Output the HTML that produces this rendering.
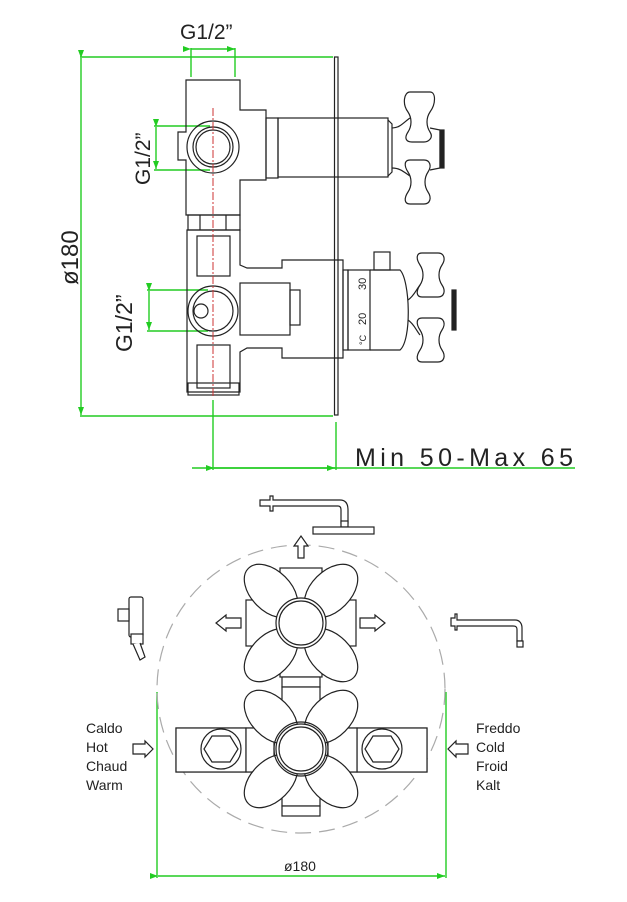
<!DOCTYPE html>
<html><head><meta charset="utf-8"><style>
html,body{margin:0;padding:0;background:#fff;}
svg{display:block;}
text{font-family:"Liberation Sans","DejaVu Sans",sans-serif;fill:#222;}
</style></head><body>
<svg width="627" height="902" viewBox="0 0 627 902" xmlns="http://www.w3.org/2000/svg">
<defs>
<marker id="ah" markerWidth="8" markerHeight="6" refX="8" refY="3" orient="auto" markerUnits="userSpaceOnUse"><path d="M0,0 L8,3 L0,6 Z" fill="#2c2"/></marker>
</defs>
<g fill="none" stroke="#22cc22" stroke-width="1.4">
<line x1="80" y1="57" x2="333" y2="57"/>
<line x1="80" y1="416" x2="333" y2="416"/>
<line x1="81" y1="58" x2="81" y2="415" marker-start="url(#ah)" marker-end="url(#ah)"/>
<line x1="191" y1="48" x2="191" y2="77"/><line x1="235" y1="48" x2="235" y2="77"/>
<line x1="191" y1="49" x2="235" y2="49" marker-start="url(#ah)" marker-end="url(#ah)"/>
<line x1="154" y1="126" x2="210" y2="126"/><line x1="154" y1="170" x2="210" y2="170"/>
<line x1="156" y1="127" x2="156" y2="169" marker-start="url(#ah)" marker-end="url(#ah)"/>
<line x1="147" y1="290" x2="208" y2="290"/><line x1="147" y1="331" x2="208" y2="331"/>
<line x1="149" y1="291" x2="149" y2="330" marker-start="url(#ah)" marker-end="url(#ah)"/>
<line x1="213" y1="400" x2="213" y2="470"/><line x1="336" y1="422" x2="336" y2="470"/>
<line x1="192" y1="468" x2="575" y2="468"/>
<line x1="214" y1="468" x2="335" y2="468" marker-start="url(#ah)" marker-end="url(#ah)"/>
<line x1="157" y1="692" x2="157" y2="878"/><line x1="446" y1="692" x2="446" y2="878"/>
<line x1="158" y1="876" x2="445" y2="876" marker-start="url(#ah)" marker-end="url(#ah)"/>
</g>
<g font-size="22" fill="#222">
<text x="180" y="39" font-size="21">G1/2”</text>
<text transform="translate(150,185) rotate(-90)" font-size="21">G1/2”</text>
<text transform="translate(132,352) rotate(-90)" font-size="23">G1/2”</text>
<text transform="translate(78,285) rotate(-90)" font-size="24">ø180</text>
<text x="355" y="466" font-size="25" textLength="218">Min 50-Max 65</text>
<text x="284" y="871" font-size="14">ø180</text>
</g>
<g font-size="14">
<text x="86" y="733">Caldo</text><text x="86" y="752">Hot</text><text x="86" y="771">Chaud</text><text x="86" y="790">Warm</text>
<text x="476" y="733">Freddo</text><text x="476" y="752">Cold</text><text x="476" y="771">Froid</text><text x="476" y="790">Kalt</text>
</g>
<g fill="none" stroke="#222" stroke-width="1.2">
<rect x="334.5" y="57" width="3.5" height="358"/>
<path d="M186,80 H240 V110 H266 V180 H240 V215 H186 V160 H178 V132 H186 Z"/>
<circle cx="213" cy="147" r="26"/><circle cx="213" cy="147" r="20"/><circle cx="213" cy="147" r="17"/>
<rect x="266" y="118" width="12" height="60"/>
<rect x="278" y="118" width="110" height="59"/>
<path d="M388,120 L392,124 V172 L388,176"/>
<path d="M392,128 C400,128 404,122 410,118"/><path d="M392,168 C400,168 404,172 410,176"/>
<path d="M410,92 h20 c6,0 6,12 0,20 c-4,6 -4,14 0,20 c4,6 -2,10 -6,10 h-12 c-6,0 -8,-4 -4,-10 c4,-6 4,-14 0,-20 c-6,-8 -4,-20 2,-20 z"/>
<path d="M410,160 h14 c6,0 8,6 4,12 c-4,6 -4,14 0,20 c4,6 2,12 -4,12 h-14 c-6,0 -6,-6 -2,-12 c4,-6 4,-14 0,-20 c-4,-6 -4,-12 2,-12 z"/>
<path d="M430,128 L440,130 V168 L430,170"/>
<rect x="440" y="130" width="4" height="38" fill="#222"/>
<rect x="188" y="215" width="52" height="15"/><line x1="200" y1="215" x2="200" y2="230"/><line x1="226" y1="215" x2="226" y2="230"/>
<path d="M187,230 H240 V265 L247,268 H282 V260 H343 V358 H282 V348 H247 L240,352 V392 H187 Z"/>
<rect x="197" y="236" width="33" height="40"/><rect x="197" y="345" width="33" height="43"/>
<rect x="188" y="383" width="51" height="12"/>
<rect x="240" y="283" width="50" height="52"/>
<rect x="290" y="290" width="10" height="35"/>
<circle cx="213" cy="311" r="25"/><circle cx="213" cy="311" r="20"/><circle cx="201" cy="311" r="7"/>
<rect x="343" y="270" width="5" height="80"/>
<rect x="348" y="270" width="22" height="80"/>
<rect x="374" y="252" width="16" height="18"/>
<path d="M370,270 H400 C410,280 412,340 400,350 H370"/>
<path d="M408,300 C414,296 416,290 420,285"/><path d="M408,320 C414,324 416,330 420,335"/>
<path d="M422,253 h16 c6,0 8,6 4,12 c-4,6 -4,14 0,20 c4,6 2,12 -4,12 h-16 c-6,0 -6,-6 -2,-12 c4,-6 4,-14 0,-20 c-4,-6 -4,-12 2,-12 z"/>
<path d="M422,318 h16 c6,0 8,6 4,12 c-4,6 -4,14 0,20 c4,6 2,12 -4,12 h-16 c-6,0 -6,-6 -2,-12 c4,-6 4,-14 0,-20 c-4,-6 -4,-12 2,-12 z"/>
<rect x="452" y="290" width="4" height="40" fill="#222"/>
</g>
<g font-size="11"><text transform="translate(366,290) rotate(-90)">30</text><text transform="translate(366,325) rotate(-90)">20</text><text transform="translate(366,345) rotate(-90)" font-size="9">°C</text></g>
<line x1="213" y1="108" x2="213" y2="398" stroke="#c33" stroke-width="1" stroke-dasharray="8,2,2,2"/>
<circle cx="301" cy="689" r="144" fill="none" stroke="#aaa" stroke-width="1.2" stroke-dasharray="16,8"/>
<g fill="#fff" stroke="#222" stroke-width="1.2">
<path d="M260,500 H270 V496 H273 V500 H340 C346,500 348,504 348,510 V523 H341 V510 C341,507 340,506 338,506 H273 V511 H270 V506 H260 Z"/>
<rect x="341" y="521" width="7" height="6"/>
<rect x="313" y="527" width="61" height="7"/>
<path d="M298,558 V546 H294 L301,536 L308,546 H304 V558 Z"/>
<path d="M451,618 H455 V614 H457 V620 H515 C520,620 522,624 522,628 V641 H517 V630 C517,627 516,626 513,626 H457 V630 H455 V626 H451 Z"/>
<rect x="517" y="641" width="6" height="6"/>
<rect x="129" y="597" width="14" height="40" rx="2"/><rect x="118" y="609" width="11" height="12"/>
<rect x="131" y="634" width="12" height="10"/><path d="M133,644 L140,660 L145,657 L140,643"/>
<path d="M241,618 V628 H226 V631 L216,623 L226,615 V618 Z"/>
<path d="M360,618 V628 H375 V631 L385,623 L375,615 V618 Z"/>
<path d="M133,744 V754 H145 V757 L153,749 L145,741 V744 Z"/>
<path d="M468,744 V754 H456 V757 L448,749 L456,741 V744 Z"/>
<rect x="280" y="568" width="42" height="109"/>
<rect x="246" y="600" width="110" height="46"/>
<g transform="translate(301,623)">
<ellipse cx="-30" cy="-32" rx="20" ry="32" transform="rotate(-45 -30 -32)"/>
<ellipse cx="30" cy="-32" rx="20" ry="32" transform="rotate(45 30 -32)"/>
<ellipse cx="-30" cy="32" rx="20" ry="32" transform="rotate(45 -30 32)"/>
<ellipse cx="30" cy="32" rx="20" ry="32" transform="rotate(-45 30 32)"/>
<circle r="25"/><circle r="22"/>
</g>
<rect x="282" y="677" width="38" height="10"/>
<rect x="282" y="687" width="38" height="40"/>
<rect x="176" y="728" width="251" height="44"/>
<rect x="176" y="728" width="70" height="44"/><rect x="357" y="728" width="70" height="44"/>
<rect x="246" y="728" width="28" height="44"/><rect x="328" y="728" width="29" height="44"/>
<circle cx="221" cy="749" r="20"/><path d="M212,736 L230,736 L238,749 L230,762 L212,762 L204,749 Z"/>
<circle cx="382" cy="749" r="20"/><path d="M373,736 L391,736 L399,749 L391,762 L373,762 L365,749 Z"/>
<rect x="282" y="772" width="38" height="34"/><rect x="282" y="806" width="38" height="10"/>
<g transform="translate(301,749)">
<ellipse cx="-30" cy="-32" rx="20" ry="32" transform="rotate(-45 -30 -32)"/>
<ellipse cx="30" cy="-32" rx="20" ry="32" transform="rotate(45 30 -32)"/>
<ellipse cx="-30" cy="32" rx="20" ry="32" transform="rotate(45 -30 32)"/>
<ellipse cx="30" cy="32" rx="20" ry="32" transform="rotate(-45 30 32)"/>
<circle r="27" fill="none"/><circle r="25"/><circle r="22"/>
</g>
</g>
</svg>
</body></html>
